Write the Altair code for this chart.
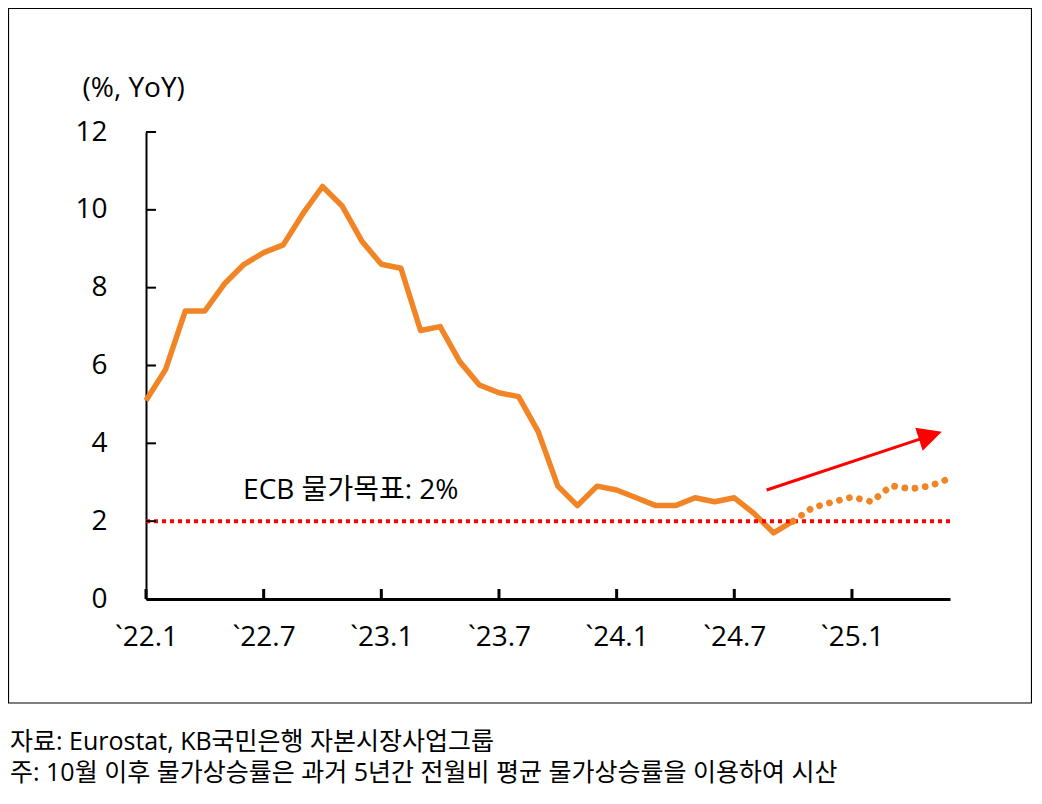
import json
import altair as alt
import pandas as pd

# ---------------- data ----------------
actual_values = [5.1, 5.9, 7.4, 7.4, 8.1, 8.6, 8.9, 9.1, 9.9, 10.6, 10.1, 9.2,
                 8.6, 8.5, 6.9, 7.0, 6.1, 5.5, 5.3, 5.2, 4.3, 2.9, 2.4, 2.9,
                 2.8, 2.6, 2.4, 2.4, 2.6, 2.5, 2.6, 2.2, 1.7, 2.0]
projected_start = 33  # Oct 2024 (month index from Jan 2022)
projected_values = [2.0, 2.35, 2.49, 2.62, 2.50, 2.91, 2.83, 2.91, 3.1]
target_value = 2.0
x_domain = [0, 41]
y_domain = [0, 12]
x_tick_values = [0, 6, 12, 18, 24, 30, 36]
x_tick_labels = ["`22.1", "`22.7", "`23.1", "`23.7", "`24.1", "`24.7", "`25.1"]
y_tick_values = [0, 2, 4, 6, 8, 10, 12]
y_title = "(%, YoY)"
target_label = "ECB 물가목표: 2%"
target_label_pos = [4.95, 2.77]
arrow_x = [31.65, 40.0]
arrow_y = [2.8, 4.2]
source_note = "자료: Eurostat, KB국민은행 자본시장사업그룹"
footnote = "주: 10월 이후 물가상승률은 과거 5년간 전월비 평균 물가상승률을 이용하여 시산"

# ---------------- style ----------------
FONT = "Open Sans, Noto Sans CJK KR"
ORANGE = "#F18526"
RED = "#FF0000"
W, H = 804, 467

actual_df = pd.DataFrame({"m": list(range(len(actual_values))), "v": actual_values})
proj_df = pd.DataFrame({"m": list(range(projected_start, projected_start + len(projected_values))),
                        "v": projected_values})
target_df = pd.DataFrame({"m": [x_domain[0]], "m2": [x_domain[1]], "v": [target_value]})
arrow_df = pd.DataFrame({"m": arrow_x, "v": arrow_y})
head_df = pd.DataFrame({"m": [arrow_x[-1]], "v": [arrow_y[-1]]})
label_df = pd.DataFrame({"m": [target_label_pos[0]], "v": [target_label_pos[1]], "t": [target_label]})
ytick_df = pd.DataFrame({"v": y_tick_values})
xtick_df = pd.DataFrame({"m": x_tick_values})

xs = alt.Scale(domain=x_domain, nice=False, zero=False)
ys = alt.Scale(domain=y_domain, nice=False, zero=False)

label_expr = f"{json.dumps(x_tick_labels)}[indexof({json.dumps(x_tick_values)}, datum.value)]"

x_axis = alt.Axis(values=x_tick_values, labelExpr=label_expr, labelFontSize=28, labelFont=FONT,
                  labelColor="black", labelPadding=24, ticks=False, tickSize=0, grid=False,
                  domainColor="black", domainWidth=3, labelFlush=False, labelOverlap=False,
                  title=None)
y_axis = alt.Axis(values=y_tick_values, labelFontSize=28, labelFont=FONT, labelColor="black",
                  labelPadding=39, ticks=False, tickSize=0, grid=False, domainColor="black",
                  domainWidth=2, labelFlush=False, title=y_title, titleAngle=0, titleX=-64,
                  titleY=-44, titleAlign="left", titleBaseline="middle", titleFontSize=28,
                  titleFont=FONT, titleFontWeight="normal", titleColor="black")


def X(field="m"):
    return alt.X(f"{field}:Q", scale=xs, axis=x_axis)


def Y(field="v"):
    return alt.Y(f"{field}:Q", scale=ys, axis=y_axis)


actual_line = alt.Chart(actual_df).mark_line(
    color=ORANGE, strokeWidth=5.5, strokeJoin="round"
).encode(x=X(), y=Y())

proj_line = alt.Chart(proj_df).mark_line(
    color=ORANGE, strokeWidth=6.8, strokeDash=[0.01, 10.3], strokeCap="round"
).encode(x=X(), y=Y())

target_rule = alt.Chart(target_df).mark_rule(
    color=RED, strokeWidth=4, strokeDash=[4, 4]
).encode(x=X("m"), x2="m2:Q", y=Y())

arrow_line = alt.Chart(arrow_df).mark_line(color=RED, strokeWidth=3).encode(x=X(), y=Y())
arrow_head = alt.Chart(head_df).mark_point(
    shape="M -1 -1 L 1 0 L -1 1 Z", size=576, filled=True, color=RED, opacity=1,
    angle=342, strokeWidth=0
).encode(x=X(), y=Y())

target_text = alt.Chart(label_df).mark_text(
    align="left", baseline="middle", fontSize=28, font=FONT, color="black"
).encode(x=X(), y=Y(), text="t:N")

ytick_rules = alt.Chart(ytick_df).mark_rule(color="black", strokeWidth=2).encode(
    x=alt.value(0), x2=alt.value(10), y=Y())
xtick_rules = alt.Chart(xtick_df).mark_rule(color="black", strokeWidth=3).encode(
    x=X(), y=alt.value(H), y2=alt.value(H - 10))

frame = alt.Chart(pd.DataFrame({"a": [0]})).mark_rect(
    fill=None, stroke="black", strokeWidth=1.2
).encode(x=alt.value(-137.5), x2=alt.value(885.5), y=alt.value(-123.5), y2=alt.value(571))

src_text = alt.Chart(pd.DataFrame({"t": [source_note]})).mark_text(
    align="left", baseline="middle", fontSize=25, font=FONT, color="black"
).encode(x=alt.value(-136), y=alt.value(610), text="t:N")
note_text = alt.Chart(pd.DataFrame({"t": [footnote]})).mark_text(
    align="left", baseline="middle", fontSize=25, font=FONT, color="black"
).encode(x=alt.value(-136), y=alt.value(641), text="t:N")

chart = alt.layer(
    actual_line, frame, target_rule, proj_line, arrow_line, arrow_head, target_text,
    ytick_rules, xtick_rules, src_text, note_text
).properties(
    width=W, height=H,
    padding={"left": 138, "top": 124, "right": 82, "bottom": 190},
    autosize=alt.AutoSizeParams(type="none"),
    background="white",
).configure_view(stroke=None)

chart.save("out.html", embed_options={"renderer": "svg", "actions": False})
